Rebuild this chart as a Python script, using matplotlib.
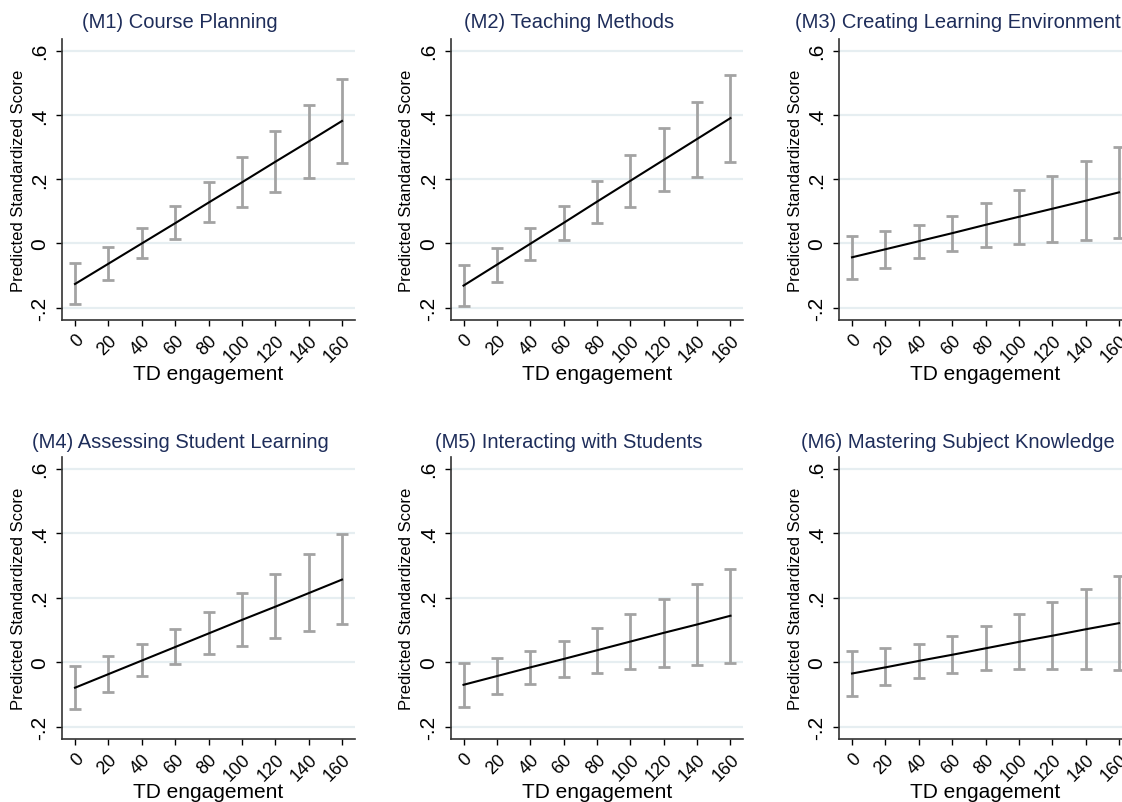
import numpy as np
import matplotlib
matplotlib.use("Agg")
import matplotlib.pyplot as plt

plt.rcParams['font.family'] = ['Liberation Sans', 'DejaVu Sans']

# TD engagement values
td = [0, 20, 40, 60, 80, 100, 120, 140, 160]

titles = ["(M1) Course Planning", "(M2) Teaching Methods",
          "(M3) Creating Learning Environment", "(M4) Assessing Student Learning",
          "(M5) Interacting with Students", "(M6) Mastering Subject Knowledge"]

# predicted scores and 95% CI
m1_est = [-0.126, -0.063, 0.000, 0.063, 0.127, 0.190, 0.254, 0.317, 0.381]
m1_lo = [-0.188, -0.115, -0.046, 0.014, 0.066, 0.113, 0.161, 0.204, 0.249]
m1_hi = [-0.062, -0.010, 0.048, 0.116, 0.191, 0.270, 0.349, 0.432, 0.513]

m2_est = [-0.131, -0.066, -0.001, 0.064, 0.130, 0.195, 0.260, 0.325, 0.390]
m2_lo = [-0.196, -0.120, -0.050, 0.011, 0.065, 0.114, 0.162, 0.207, 0.253]
m2_hi = [-0.067, -0.013, 0.047, 0.116, 0.193, 0.274, 0.358, 0.441, 0.525]

m3_est = [-0.043, -0.018, 0.007, 0.032, 0.058, 0.083, 0.108, 0.133, 0.159]
m3_lo = [-0.112, -0.075, -0.044, -0.024, -0.010, -0.002, 0.006, 0.012, 0.016]
m3_hi = [0.024, 0.038, 0.057, 0.087, 0.126, 0.166, 0.209, 0.255, 0.301]

m4_est = [-0.079, -0.037, 0.005, 0.047, 0.089, 0.131, 0.172, 0.214, 0.256]
m4_lo = [-0.145, -0.091, -0.044, -0.006, 0.024, 0.050, 0.074, 0.097, 0.118]
m4_hi = [-0.012, 0.018, 0.055, 0.102, 0.156, 0.213, 0.274, 0.335, 0.397]

m5_est = [-0.070, -0.043, -0.016, 0.010, 0.037, 0.064, 0.091, 0.117, 0.144]
m5_lo = [-0.139, -0.100, -0.069, -0.047, -0.033, -0.022, -0.015, -0.008, -0.002]
m5_hi = [-0.001, 0.013, 0.036, 0.067, 0.106, 0.149, 0.195, 0.242, 0.289]

m6_est = [-0.035, -0.016, 0.004, 0.023, 0.043, 0.063, 0.082, 0.102, 0.121]
m6_lo = [-0.104, -0.072, -0.048, -0.033, -0.025, -0.022, -0.021, -0.022, -0.024]
m6_hi = [0.036, 0.044, 0.057, 0.082, 0.113, 0.149, 0.188, 0.227, 0.267]

est_all = [m1_est, m2_est, m3_est, m4_est, m5_est, m6_est]
lo_all = [m1_lo, m2_lo, m3_lo, m4_lo, m5_lo, m6_lo]
hi_all = [m1_hi, m2_hi, m3_hi, m4_hi, m5_hi, m6_hi]

yticks = [-0.2, 0, 0.2, 0.4, 0.6]
ytick_labels = ["-.2", "0", ".2", ".4", ".6"]

fig = plt.figure(figsize=(11.22, 8.03), dpi=100)
W, H = 1122, 803

lefts = [62, 450.5, 839]
bottoms = [321, 740]
heights = [281, 282]
title_x = [180, 569, 958]
title_y = [23, 443]
xlab_y = [375, 793]

for i in range(6):
    r, c = divmod(i, 3)
    ax = fig.add_axes([lefts[c] / W, (H - bottoms[r]) / H, 293 / W, heights[r] / H])
    est = np.array(est_all[i])
    lo = np.array(lo_all[i])
    hi = np.array(hi_all[i])

    ax.errorbar(td, est, yerr=[est - lo, hi - est], fmt='none', ecolor='#a3a3a3',
                elinewidth=2, capsize=4, capthick=2, zorder=2)
    ax.plot(td, est, color='black', lw=1.5, zorder=3)

    ax.set_xlim(-7.8, 167.8)
    ax.set_ylim(-0.238, 0.636)
    ax.set_yticks(yticks)
    ax.set_yticklabels(ytick_labels, rotation=90, va='center', fontsize=15)
    ax.set_xticks(td)
    ax.set_xticklabels([str(v) for v in td], rotation=45, ha='right',
                       rotation_mode='anchor', fontsize=13)
    ax.tick_params(axis='y', length=4, width=1, pad=5)
    ax.tick_params(axis='x', length=4, width=1, pad=4)
    ax.grid(axis='y', color='#e6eef1', lw=1.6, zorder=0)
    ax.set_axisbelow(True)
    for s in ['top', 'right']:
        ax.spines[s].set_visible(False)
    for s in ['left', 'bottom']:
        ax.spines[s].set_color('#333333')
        ax.spines[s].set_linewidth(1.2)

    ax.set_ylabel("Predicted Standardized Score", fontsize=12)
    ax.yaxis.label.set_va('center')
    ax.yaxis.set_label_coords(-0.150, 0.5)

    fig.text((lefts[c] + 146.5) / W, 1 - xlab_y[r] / H, "TD engagement",
             ha='center', va='center', fontsize=15)
    fig.text(title_x[c] / W, 1 - title_y[r] / H, titles[i], ha='center', va='center',
             fontsize=14.5, color='#1e2d5a')

fig.savefig("out.png", dpi=100)
